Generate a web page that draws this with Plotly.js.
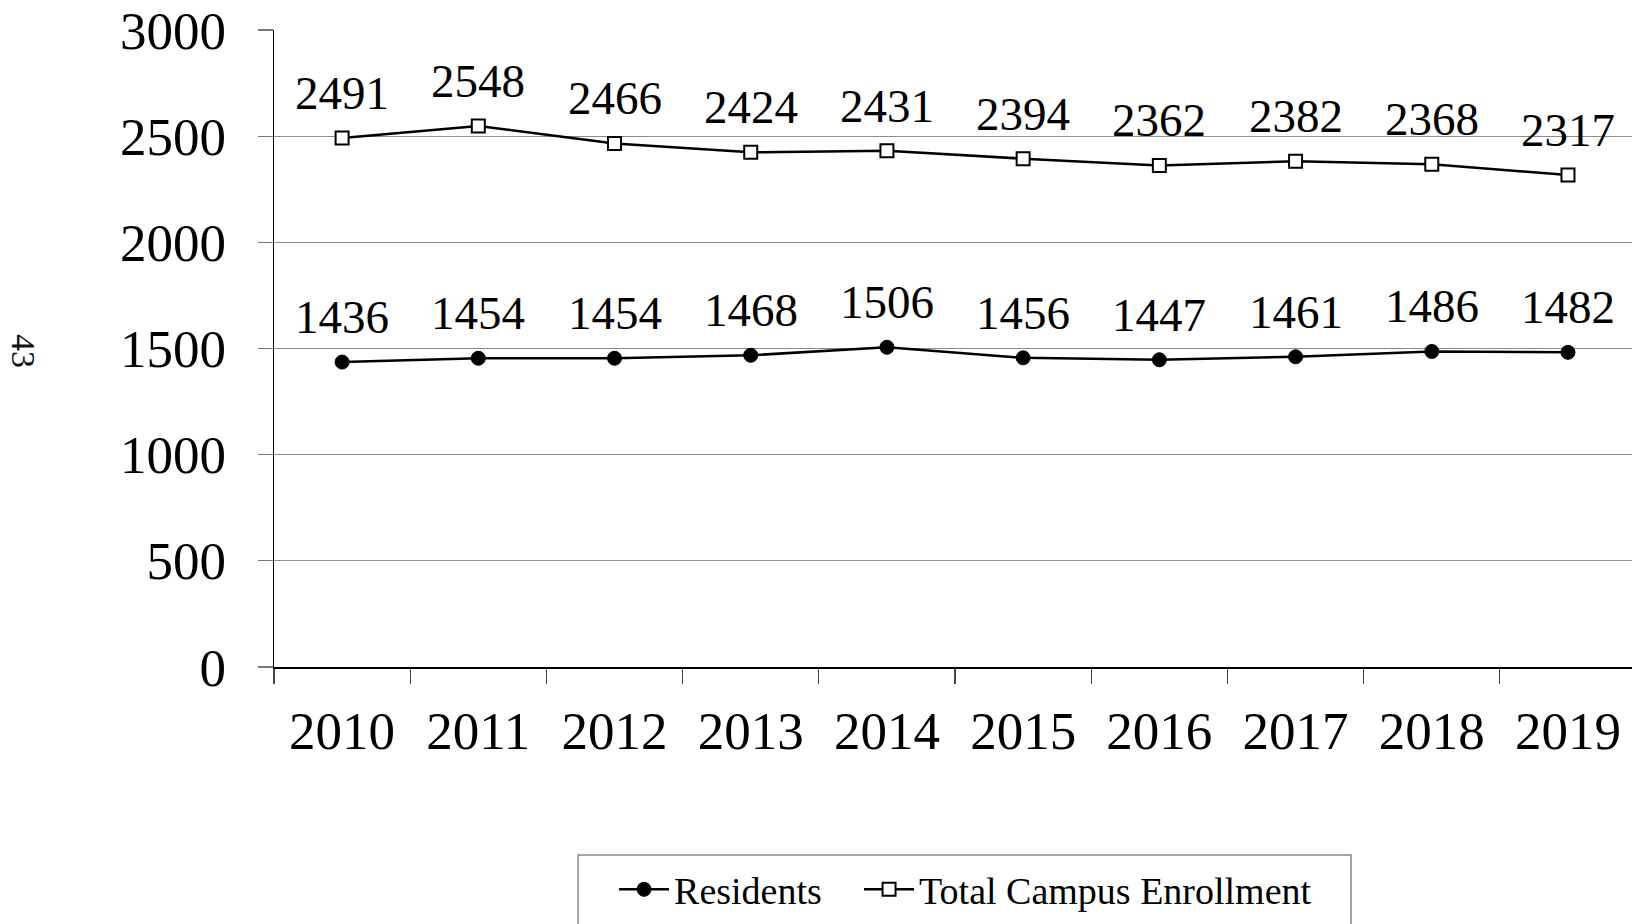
<!DOCTYPE html>
<html>
<head>
<meta charset="utf-8">
<script src="https://cdn.plot.ly/plotly-3.0.1.min.js"></script>
<style>
html,body{margin:0;padding:0;background:#fff;}
#chart{width:1632px;height:924px;}
</style>
</head>
<body>
<div id="chart"></div>
<script>
var years = ["2010","2011","2012","2013","2014","2015","2016","2017","2018","2019"];
var residents = [1436,1454,1454,1468,1506,1456,1447,1461,1486,1482];
var totalEnrollment = [2491,2548,2466,2424,2431,2394,2362,2382,2368,2317];
var seriesNames = ["Residents","Total Campus Enrollment"];
var yTicks = [0,500,1000,1500,2000,2500,3000];
var pageNumber = "43";

var FONT = "Liberation Serif";

var traces = [
  {
    x: years, y: residents, name: seriesNames[0], type: "scatter", mode: "lines+markers",
    line: {color: "#000", width: 2.5},
    marker: {symbol: "circle", size: 14, color: "#000", line: {color: "#000", width: 1}},
    cliponaxis: false, legendwidth: 180
  },
  {
    x: years, y: totalEnrollment, name: seriesNames[1], type: "scatter", mode: "lines+markers",
    line: {color: "#000", width: 2.5},
    marker: {symbol: "square", size: 13, color: "#fff", line: {color: "#000", width: 2}},
    cliponaxis: false, legendwidth: 420
  }
];

var annotations = [];
function addLabels(vals){
  for (var i = 0; i < years.length; i++){
    annotations.push({
      x: i, y: vals[i], xref: "x", yref: "y",
      text: String(vals[i]), showarrow: false,
      yanchor: "middle", xanchor: "center", yshift: 45,
      font: {family: FONT, size: 47, color: "#000"}
    });
  }
}
addLabels(residents);
addLabels(totalEnrollment);

annotations.push({
  xref: "paper", yref: "paper", x: -0.184, y: 0.496,
  text: pageNumber, showarrow: false, textangle: 90,
  xanchor: "center", yanchor: "middle",
  font: {family: FONT, size: 34, color: "#111"}
});

var layout = {
  width: 1632, height: 924,
  margin: {l: 274, r: 0, t: 30, b: 257, pad: 0},
  paper_bgcolor: "#fff", plot_bgcolor: "#fff",
  showlegend: true,
  legend: {
    orientation: "h", x: 0.2504, xanchor: "left", y: -0.30, yanchor: "top",
    font: {family: FONT, size: 38, color: "#000"},
    bgcolor: "rgba(0,0,0,0)", borderwidth: 0,
    itemwidth: 50, entrywidthmode: "pixels"
  },
  xaxis: {
    type: "category", range: [-0.5, 9.47],
    tickson: "boundaries", ticks: "outside", ticklen: 15, tickwidth: 1.2, tickcolor: "#444",
    showline: true, linecolor: "#000", linewidth: 1.5,
    showgrid: false, zeroline: false,
    tickfont: {family: FONT, size: 53, color: "#000"},
    ticklabelstandoff: 17,
    fixedrange: true
  },
  yaxis: {
    range: [0, 3000], tickvals: yTicks, ticktext: yTicks.map(String),
    ticks: "outside", ticklen: 15, tickwidth: 1.2, tickcolor: "#777",
    showline: true, linecolor: "#000", linewidth: 1.5,
    showgrid: true, gridcolor: "#8c8c8c", gridwidth: 1.3,
    zeroline: false,
    tickfont: {family: FONT, size: 53, color: "#000"},
    ticklabelstandoff: 21,
    fixedrange: true
  },
  shapes: [{
    type: "rect", xref: "paper", yref: "paper",
    x0: 0.2239, x1: 0.7931, y0: -0.2951, y1: -0.45,
    line: {color: "#888", width: 1.5}, fillcolor: "rgba(0,0,0,0)", layer: "below"
  }],
  annotations: annotations
};

Plotly.newPlot("chart", traces, layout, {displayModeBar: false, staticPlot: true});
</script>
</body>
</html>
